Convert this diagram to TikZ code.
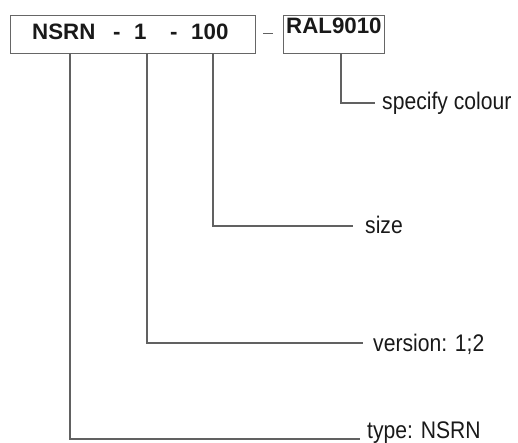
\documentclass[tikz,border=0pt]{standalone}
\usepackage{fontspec}
\setmainfont{Liberation Sans}
\newfontfamily\narrowfont[FakeStretch=0.88]{Liberation Sans}
\begin{document}
\begin{tikzpicture}[x=1pt,y=-1pt,
  frame/.style={draw=black!60,line width=1.1pt},
  lead/.style={draw=black!62,line width=1.1pt},
  code/.style={font=\fontsize{22.3}{25}\selectfont\bfseries,text=black!90,inner sep=0pt,anchor=base west},
  lbl/.style={font=\narrowfont\fontsize{24}{27}\selectfont,text=black!90,inner sep=0pt,anchor=base west}]
\useasboundingbox (0,0) rectangle (518,442);
% boxes
\node[frame,minimum width=245pt,minimum height=38pt,inner sep=0pt,anchor=north west] (box1) at (10,15) {};
\node[frame,minimum width=101pt,minimum height=38pt,inner sep=0pt,anchor=north west] (box2) at (283,15) {};
% code text
\node[code] (tN) at (32,39) {NSRN};
\node[code] (tD1) at (113,39) {-};
\node[code] (t1) at (134,39) {1};
\node[code] (tD2) at (170,39) {-};
\node[code] (t100) at (191,39) {100};
\node[code] (tRAL) at (286,33) {RAL9010};
\coordinate (dA) at (263,33);
\coordinate (dB) at (273,33);
\draw[lead,line width=1pt] (dA) -- (dB);
% labels
\node[lbl] (lc) at (382,109) {specify colour};
\node[lbl] (ls) at (365,233) {size};
\node[lbl] (lv) at (373,351) {version: 1;2};
\node[lbl] (lt) at (367,438) {type: NSRN};
% leaders
\coordinate (bc) at (341,53);
\coordinate (bs) at (213,53);
\coordinate (bv) at (147,53);
\coordinate (bt) at (70,53);
\coordinate (ec) at (375,103);
\coordinate (es) at (353,226);
\coordinate (ev) at (363,343);
\coordinate (et) at (360,439);
\draw[lead] (bc) |- (ec);
\draw[lead] (bs) |- (es);
\draw[lead] (bv) |- (ev);
\draw[lead] (bt) |- (et);
\end{tikzpicture}
\end{document}
